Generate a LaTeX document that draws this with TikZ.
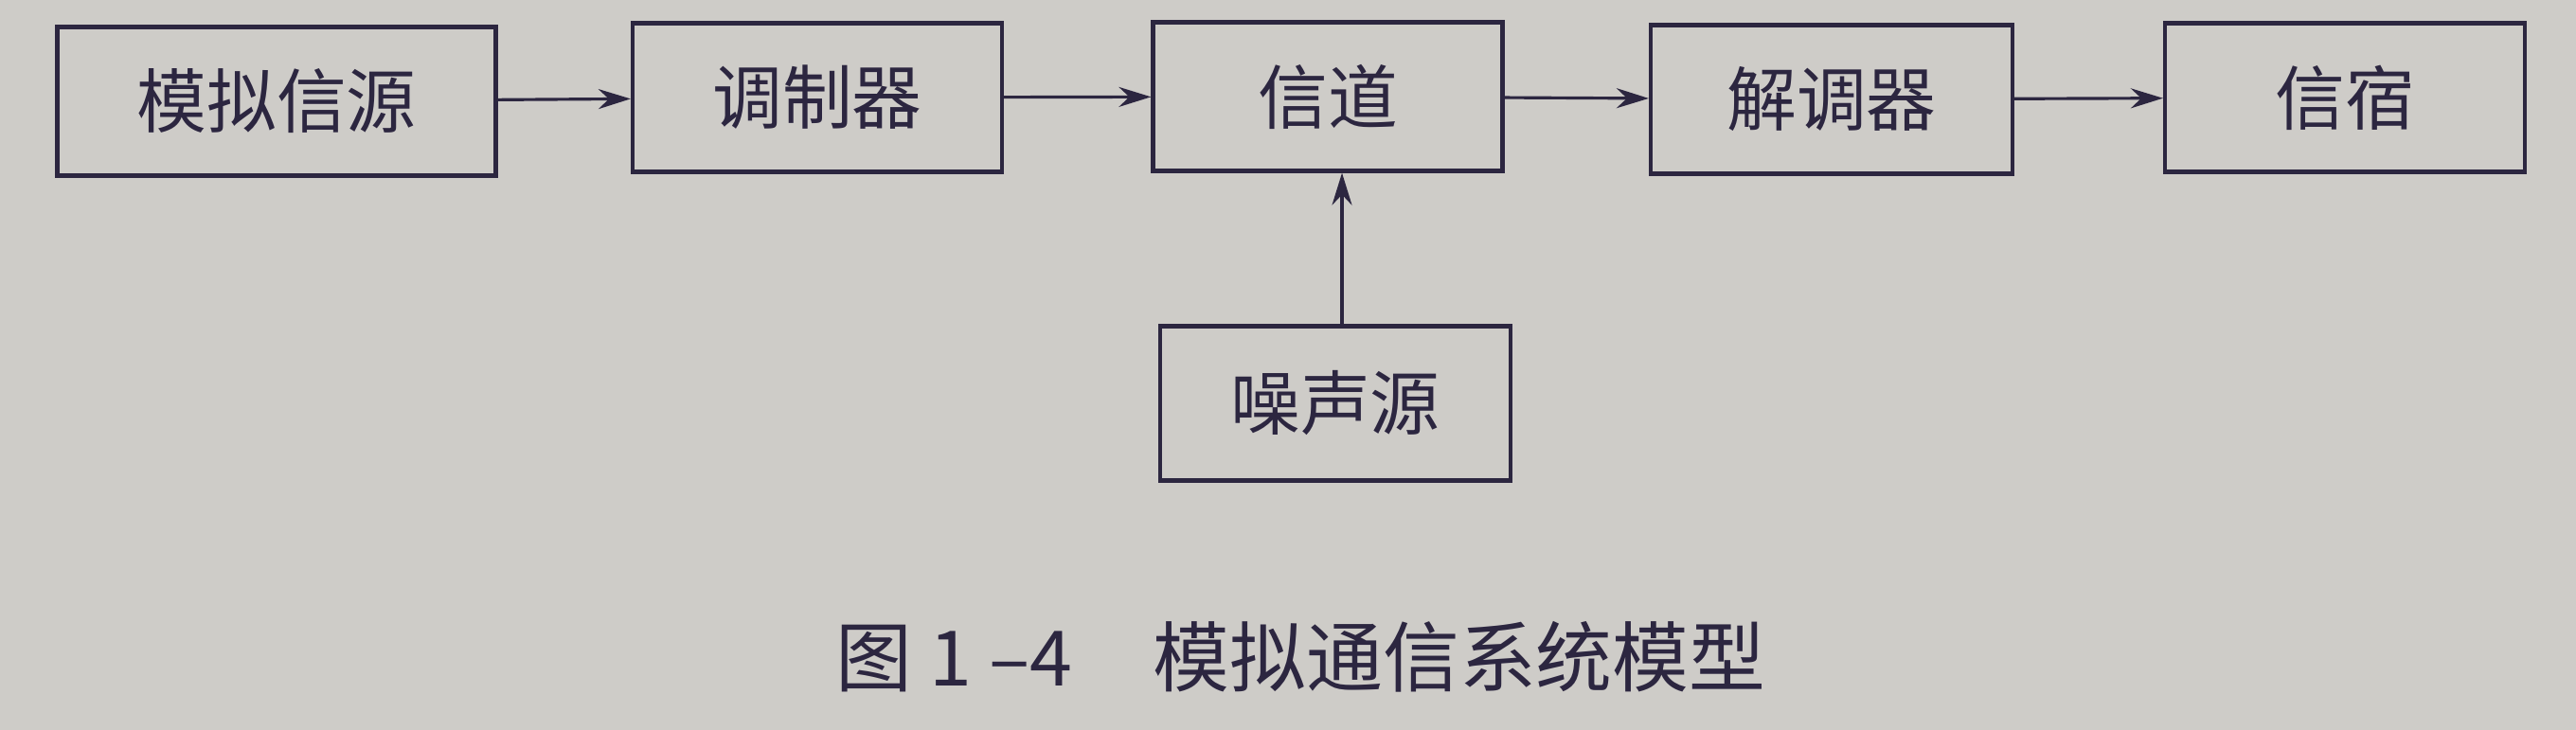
\documentclass[tikz,border=0pt]{standalone}
\usepackage{fontspec}
\setmainfont{Noto Sans CJK SC}
\usetikzlibrary{arrows.meta}
\definecolor{papier}{RGB}{206,204,200}
\definecolor{tinte}{RGB}{44,38,64}
\def\punkt#1#2{ ({(#1)/100},{-(#2)/100}) }

\begin{document}
\begin{tikzpicture}[
	block/.style={draw=tinte,line width=1.2pt,minimum height=1.57cm,inner sep=0pt,
		text=tinte,font=\fontsize{21pt}{25pt}\selectfont},
	pfeil/.style={draw=tinte,line width=0.9pt,-{Stealth[length=0.34cm,width=0.21cm]}}
]
\fill[papier] \punkt{0}{0} rectangle \punkt{2720}{771};
\useasboundingbox \punkt{0}{0} rectangle \punkt{2720}{771};
% obere Reihe
\node[block,minimum width=4.63cm] (quelle) at \punkt{292}{107} {模拟信源};
\node[block,minimum width=3.90cm] (modul) at \punkt{863}{103} {调制器};
\node[block,minimum width=3.69cm] (kanal) at \punkt{1402}{102} {信道};
\node[block,minimum width=3.82cm] (demod) at \punkt{1934}{105} {解调器};
\node[block,minimum width=3.80cm] (senke) at \punkt{2476}{103} {信宿};
% Rauschen
\node[block,minimum width=3.70cm,minimum height=1.63cm] (rausch) at \punkt{1410}{426} {噪声源};
\draw[pfeil] (quelle) -- (modul);
\draw[pfeil] (modul) -- (kanal);
\draw[pfeil] (kanal) -- (demod);
\draw[pfeil] (demod) -- (senke);
\draw[pfeil] ([xshift=0.07cm]rausch.north) -- ([xshift=0.07cm]rausch.north |- kanal.south);
\node[anchor=west,text=tinte,inner sep=0pt,font=\fontsize{23pt}{27pt}\selectfont] (titel)
	at \punkt{882}{694} {图 1 –4\hspace{0.85cm}模拟通信系统模型};
\end{tikzpicture}
\end{document}
